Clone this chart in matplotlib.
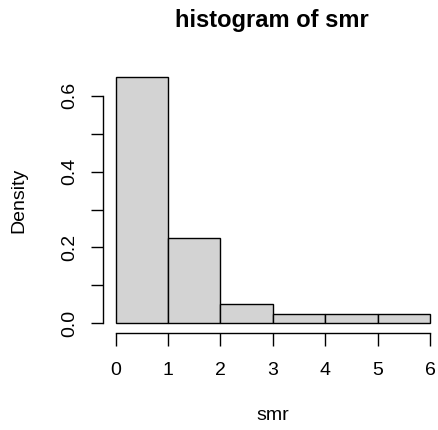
import matplotlib
matplotlib.use("Agg")
from matplotlib import pyplot as plt

# histogram of smr (density scale)
bin_edges = [0, 1, 2, 3, 4, 5, 6]
density = [0.65, 0.225, 0.05, 0.025, 0.025, 0.025]
y_ticks = [0.0, 0.1, 0.2, 0.3, 0.4, 0.5, 0.6]
y_labels = ["0.0", "", "0.2", "", "0.4", "", "0.6"]

plt.rcParams['font.family'] = ['Liberation Sans', 'DejaVu Sans']

fig = plt.figure(figsize=(4.39, 4.30), dpi=100)
W, H = 439, 430
left, right, top, bottom = 103.1, 442.6, 66.9, 333.2
ax = fig.add_axes([left / W, 1 - bottom / H, (right - left) / W, (bottom - top) / H])

ax.bar(bin_edges[:-1], density, width=1, align='edge', color='#D3D3D3',
       edgecolor='black', linewidth=1.0)

ax.set_xlim(-0.24, 6.24)
ax.set_ylim(-0.026, 0.676)

for s in ['top', 'right']:
    ax.spines[s].set_visible(False)
ax.spines['left'].set_bounds(0, 0.6)
ax.spines['bottom'].set_bounds(0, 6)
for s in ['left', 'bottom']:
    ax.spines[s].set_linewidth(1.0)

ax.set_xticks(bin_edges)
ax.set_xticklabels([str(v) for v in bin_edges])
ax.set_yticks(y_ticks)
ax.set_yticklabels(y_labels, rotation=90, va='center')
ax.tick_params(axis='both', length=9.0, width=1.0, labelsize=14)
ax.tick_params(axis='x', pad=12)
ax.tick_params(axis='y', pad=9)

ax.set_xlabel("smr", fontsize=14, labelpad=20)
ax.set_ylabel("Density", fontsize=14, labelpad=24)
fig.text(272 / W, 1 - 21 / H, "histogram of smr", fontsize=17,
         fontweight='bold', ha='center', va='center')

fig.savefig("out.png", dpi=100)
